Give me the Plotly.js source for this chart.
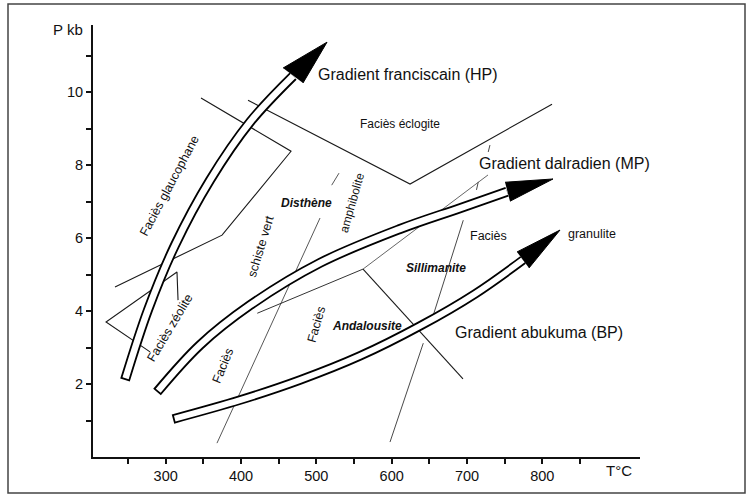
<!DOCTYPE html>
<html>
<head>
<meta charset="utf-8">
<script src="https://cdn.plot.ly/plotly-3.0.1.min.js"></script>
<style>
html,body{margin:0;padding:0;background:#fff;}
#chart{width:750px;height:500px;}
</style>
</head>
<body>
<div id="chart"></div>
<script>
// ---------- tick labels ----------
const tTicks = [250,300,350,400,450,500,550,600,650,700,750,800,850];
const tTickText = ['','300','','400','','500','','600','','700','','800',''];
const pTicks = [1,2,3,4,5,6,7,8,9,10,11];
const pTickText = ['','2','','4','','6','','8','','10',''];

// ---------- facies boundaries (T °C, P kb) ----------
const glaucoT = [346.9,466.4,374.8,232.7];
const glaucoP = [9.84,8.38,6.08,4.66];
const eclogT = [409.3,624.4,812.9];
const eclogP = [9.78,7.48,9.67];
const zeolT = [316.4,315.0,220.8,279.2];
const zeolP = [4.30,5.07,3.70,2.88];
const amphT = [368.1,504.9,null,520.4,530.1];
const amphP = [0.38,6.55,null,7.45,7.78];
const granT = [597.8,642,null,655.3,695.1,null,712.6,715,null,728.2,730.5];
const granP = [0.41,3.12,null,3.89,6.49,null,7.32,7.54,null,8.36,8.55];
const kyAndT = [421.6,562];   const kyAndP = [3.94,5.15];
const kySilT = [562,727.9];   const kySilP = [5.15,7.73];
const andSilT = [562,694.7];  const andSilP = [5.15,2.14];

// ---------- metamorphic gradients ----------
const franT = [246.0,276.5,312.4,358.9,412.0,469.1];
const franP = [2.11,4.03,5.81,7.59,9.18,10.44];
const franHeadT = [455.8,514.2,482.3];
const franHeadP = [10.66,11.37,10.25];

const dalT = [288.5,345.6,412.0,504.9,611.1,690.7,753.1];
const dalP = [1.78,3.07,4.16,5.32,6.25,6.82,7.27];
const dalHeadT = [750.5,814.2,757.1];
const dalHeadP = [7.53,7.62,7.01];

const abuT = [309.7,398.7,478.3,558.0,637.6,710.6,774.4];
const abuP = [1.04,1.56,2.11,2.77,3.59,4.47,5.40];
const abuHeadT = [766.4,823.5,782.3];
const abuHeadP = [5.62,6.22,5.18];

// ---------- layout geometry ----------
const xr = [203.5, 929.7], yr = [0, 11.84];
const M = {l:93, r:110, t:25, b:43};
const plotW = 750 - M.l - M.r, plotH = 500 - M.t - M.b;
const kx = plotW/(xr[1]-xr[0]), ky = plotH/(yr[1]-yr[0]);

function insetStart(T, P, d){
  const dx = (T[1]-T[0])*kx, dy = (P[1]-P[0])*ky;
  const L = Math.hypot(dx, dy);
  const T2 = T.slice(), P2 = P.slice();
  T2[0] = T[0] + (T[1]-T[0])*d/L;
  P2[0] = P[0] + (P[1]-P[0])*d/L;
  return [T2, P2];
}

const traces = [];
function thin(T, P, w, c){
  traces.push({x:T, y:P, type:'scatter', mode:'lines', connectgaps:false,
    line:{color:c, width:w}, hoverinfo:'skip', showlegend:false});
}
thin(glaucoT, glaucoP, 1.1, '#1a1a1a');
thin(eclogT, eclogP, 1.1, '#1a1a1a');
thin(zeolT, zeolP, 1.1, '#1a1a1a');
thin(amphT, amphP, 0.9, '#444');
thin(granT, granP, 0.9, '#333');
thin(kyAndT, kyAndP, 1.0, '#333');
thin(kySilT, kySilP, 0.9, '#555');
thin(andSilT, andSilP, 1.1, '#1a1a1a');

function arrow(T, P, HT, HP, W){
  traces.push({x:T, y:P, type:'scatter', mode:'lines',
    line:{color:'#000', width:W, shape:'spline', smoothing:1}, hoverinfo:'skip', showlegend:false});
  const inner = insetStart(T, P, 1.8);
  traces.push({x:inner[0], y:inner[1], type:'scatter', mode:'lines',
    line:{color:'#fff', width:W-3.6, shape:'spline', smoothing:1}, hoverinfo:'skip', showlegend:false});
  traces.push({x:HT, y:HP, type:'scatter', mode:'lines', fill:'toself',
    fillcolor:'#000', line:{color:'#000', width:1}, hoverinfo:'skip', showlegend:false});
}
arrow(franT, franP, franHeadT, franHeadP, 10);
arrow(dalT, dalP, dalHeadT, dalHeadP, 10);
arrow(abuT, abuP, abuHeadT, abuHeadP, 9.5);

const F = 'Liberation Sans, Arial, Helvetica, sans-serif';
function ann(text, x, y, size, opts){
  return Object.assign({text:text, x:x, y:y, xref:'x', yref:'y', showarrow:false,
    xanchor:'center', yanchor:'middle', font:{family:F, size:size, color:'#111'}}, opts||{});
}
const annotations = [
  ann('Gradient franciscain (HP)', 499.6, 10.49, 16, {xanchor:'left'}),
  ann('Gradient dalradien (MP)', 713.3, 8.05, 16, {xanchor:'left'}),
  ann('Gradient abukuma (BP)', 681.4, 3.42, 16, {xanchor:'left'}),
  ann('Faciès éclogite', 611.1, 9.14, 12),
  ann('Faciès glaucophane', 305.1, 7.42, 12.5, {textangle:-62}),
  ann('Faciès zéolite', 305.8, 3.53, 12.5, {textangle:-59}),
  ann('schiste vert', 426.6, 5.78, 12.5, {textangle:-73}),
  ann('Faciès', 376.1, 2.49, 12.5, {textangle:-68}),
  ann('<b><i>Disthène</i></b>', 487.2, 6.97, 12),
  ann('amphibolite', 547, 6.97, 12, {textangle:-74}),
  ann('Faciès', 500.5, 3.64, 12.5, {textangle:-74}),
  ann('<b><i>Andalousite</i></b>', 566.9, 3.60, 12),
  ann('<b><i>Sillimanite</i></b>', 658.6, 5.17, 12),
  ann('Faciès', 729.2, 6.05, 12.5),
  ann('granulite', 866.6, 6.10, 12.5),
  {text:'P kb', xref:'paper', yref:'paper', x:-0.0146, y:0.9907, xanchor:'right', yanchor:'middle',
   showarrow:false, font:{family:F, size:15, color:'#111'}},
  {text:'T°C', xref:'paper', yref:'paper', x:0.9616, y:-0.0324, xanchor:'center', yanchor:'middle',
   showarrow:false, font:{family:F, size:15, color:'#111'}}
];

const axisCommon = {showline:true, linecolor:'#111', linewidth:2, ticks:'outside', ticklen:5,
  tickwidth:2, tickcolor:'#111', showgrid:false, zeroline:false, tickmode:'array',
  tickfont:{family:F, size:14.5, color:'#111'}, fixedrange:true};

const layout = {
  width:750, height:500, margin:M, paper_bgcolor:'#fff', plot_bgcolor:'#fff',
  showlegend:false,
  xaxis:Object.assign({}, axisCommon, {range:xr, tickvals:tTicks, ticktext:tTickText}),
  yaxis:Object.assign({}, axisCommon, {range:yr, tickvals:pTicks, ticktext:pTickText}),
  annotations:annotations,
  shapes:[{type:'rect', xref:'paper', yref:'paper',
    x0:(8-M.l)/plotW, x1:(745-M.l)/plotW, y0:(500-M.b-493)/plotH, y1:(500-M.b-4)/plotH,
    line:{color:'#444', width:1.5}, fillcolor:'rgba(0,0,0,0)'}]
};

Plotly.newPlot('chart', traces, layout, {staticPlot:true, displayModeBar:false});
</script>
</body>
</html>
